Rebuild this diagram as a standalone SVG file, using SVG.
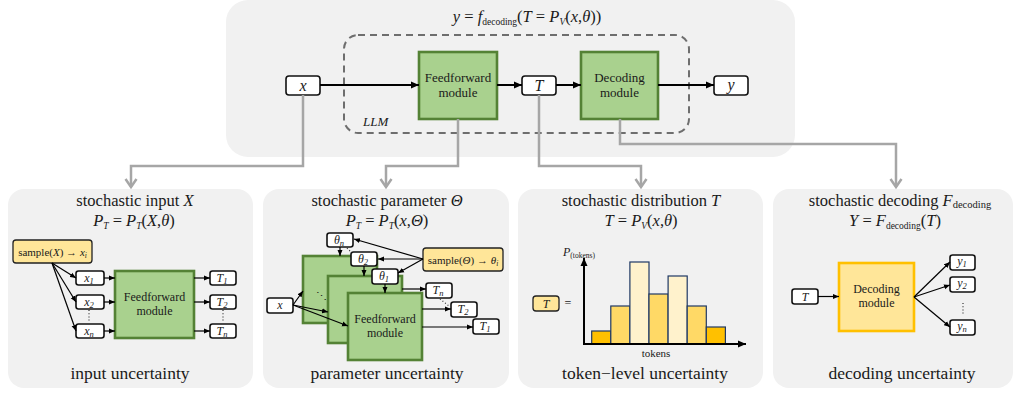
<svg xmlns="http://www.w3.org/2000/svg" width="1015" height="393" viewBox="0 0 1015 393" font-family="'Liberation Serif', 'DejaVu Serif', serif">
<style>
text{font-family:'Liberation Serif','DejaVu Serif',serif;fill:#1a1a1a}
.bg{fill:#f1f1f1}
.t15{font-size:16.5px;text-anchor:middle}
.t17{font-size:17.5px;text-anchor:middle}
.it{font-style:italic}
.node{fill:#fff;stroke:#111;stroke-width:1.6}
.nt{font-size:16px;font-style:italic;text-anchor:middle}
.nts{font-size:12px;font-style:italic;text-anchor:middle}
.green{fill:#a9d18e;stroke:#548235;stroke-width:2.6}
.gl{font-size:13px;text-anchor:middle}
.gls{font-size:12px;text-anchor:middle}
.samp{fill:#ffe699;stroke:#222;stroke-width:1.3}
.arr{stroke:#000;stroke-width:2;fill:none;marker-end:url(#ah)}
.sarr{stroke:#000;stroke-width:1.2;fill:none;marker-end:url(#ahs)}
.conn{stroke:#a6a6a6;stroke-width:2.5;fill:none;marker-end:url(#ahg)}
.dots{stroke:#333;stroke-width:1.2;stroke-dasharray:1 2.2;fill:none}
.bar{stroke:#1f3864;stroke-width:1.2}
</style>
<defs>
<marker id="ah" markerUnits="userSpaceOnUse" markerWidth="9" markerHeight="8" refX="8" refY="4" orient="auto"><path d="M0,0.5 L8,4 L0,7.5 Z" fill="#000"/></marker>
<marker id="ahs" markerUnits="userSpaceOnUse" markerWidth="7" markerHeight="6" refX="6" refY="3" orient="auto"><path d="M0,0.5 L6,3 L0,5.5 Z" fill="#000"/></marker>
<marker id="ahg" markerUnits="userSpaceOnUse" markerWidth="14" markerHeight="14" refX="10" refY="7" orient="auto"><path d="M2,1.5 L10,7 L2,12.5" fill="none" stroke="#a6a6a6" stroke-width="2.5"/></marker>
</defs>

<g id="top-panel">
<rect class="bg" x="226" y="0" width="569" height="157" rx="22"/>
<text class="t15" x="527" y="22"><tspan class="it">y</tspan> = <tspan class="it">f</tspan><tspan font-size="9.5" dy="3">decoding</tspan><tspan dy="-3">(</tspan><tspan class="it">T</tspan> = <tspan class="it">P</tspan><tspan font-size="9.5" class="it" dy="3">V</tspan><tspan dy="-3">(</tspan><tspan class="it">x</tspan>,<tspan class="it">θ</tspan>))</text>
</g>
<g id="llm">
<rect x="344" y="35" width="345" height="98" rx="14" fill="none" stroke="#6e6e6e" stroke-width="2" stroke-dasharray="7 5"/>
<text x="363" y="126" font-size="13" class="it">LLM</text>
</g>
<g id="top-x"><rect class="node" x="286" y="76" width="34" height="19" rx="3"/><text class="nt" x="303" y="91">x</text></g>
<g id="top-ff"><rect class="green" x="419" y="52" width="78" height="67"/><text class="gl" x="458" y="82">Feedforward</text><text class="gl" x="458" y="97">module</text></g>
<g id="top-T"><rect class="node" x="522" y="76" width="34" height="19" rx="3"/><text class="nt" x="539" y="91">T</text></g>
<g id="top-dec"><rect class="green" x="581" y="52" width="77" height="67"/><text class="gl" x="619.5" y="82">Decoding</text><text class="gl" x="619.5" y="97">module</text></g>
<g id="top-y"><rect class="node" x="714" y="76" width="34" height="19" rx="3"/><text class="nt" x="731" y="90">y</text></g>

<g id="panel-input">
<rect class="bg" x="8" y="189" width="245" height="199" rx="16"/>
<text class="t15" x="135" y="206">stochastic input <tspan class="it">X</tspan></text>
<text class="t15" x="134" y="226"><tspan class="it">P</tspan><tspan font-size="9.5" class="it" dy="3">T</tspan><tspan dy="-3"> = </tspan><tspan class="it">P</tspan><tspan font-size="9.5" class="it" dy="3">T</tspan><tspan dy="-3">(</tspan><tspan class="it">X</tspan>,<tspan class="it">θ</tspan>)</text>
<text class="t17" x="130" y="379">input uncertainty</text>
</g>
<g id="panel-param">
<rect class="bg" x="263" y="189" width="246" height="199" rx="16"/>
<text class="t15" x="387" y="206">stochastic parameter <tspan class="it">Θ</tspan></text>
<text class="t15" x="387" y="226"><tspan class="it">P</tspan><tspan font-size="9.5" class="it" dy="3">T</tspan><tspan dy="-3"> = </tspan><tspan class="it">P</tspan><tspan font-size="9.5" class="it" dy="3">T</tspan><tspan dy="-3">(</tspan><tspan class="it">x</tspan>,<tspan class="it">Θ</tspan>)</text>
<text class="t17" x="387" y="379">parameter uncertainty</text>
</g>
<g id="panel-token">
<rect class="bg" x="518" y="189" width="245" height="199" rx="16"/>
<text class="t15" x="641" y="206">stochastic distribution <tspan class="it">T</tspan></text>
<text class="t15" x="641" y="226"><tspan class="it">T</tspan> = <tspan class="it">P</tspan><tspan font-size="9.5" class="it" dy="3">V</tspan><tspan dy="-3">(</tspan><tspan class="it">x</tspan>,<tspan class="it">θ</tspan>)</text>
<text class="t17" x="645" y="379">token−level uncertainty</text>
</g>
<g id="panel-decoding">
<rect class="bg" x="773" y="189" width="240" height="199" rx="16"/>
<text class="t15" x="900" y="206">stochastic decoding <tspan class="it">F</tspan><tspan font-size="10.5" dy="2">decoding</tspan></text>
<text class="t15" x="895" y="226"><tspan class="it">Y</tspan> = <tspan class="it">F</tspan><tspan font-size="9.5" dy="3">decoding</tspan><tspan dy="-3">(</tspan><tspan class="it">T</tspan>)</text>
<text class="t17" x="902" y="379">decoding uncertainty</text>
</g>

<g id="p1-sample"><rect class="samp" x="13" y="240" width="79" height="23" rx="3"/><text x="52.5" y="255.5" font-size="11" text-anchor="middle">sample(<tspan class="it">X</tspan>) → <tspan class="it">x</tspan><tspan font-size="7.5" class="it" dy="2">i</tspan></text></g>
<g id="p1-x1"><rect class="node" x="76" y="271" width="28" height="14" rx="2.5" stroke-width="1.3"/><text class="nts" x="89" y="282"><tspan>x</tspan><tspan font-size="8.5" dy="2">1</tspan></text></g>
<g id="p1-x2"><rect class="node" x="76" y="295" width="28" height="14" rx="2.5" stroke-width="1.3"/><text class="nts" x="89" y="306"><tspan>x</tspan><tspan font-size="8.5" dy="2">2</tspan></text></g>
<g id="p1-xn"><rect class="node" x="76" y="324" width="28" height="14" rx="2.5" stroke-width="1.3"/><text class="nts" x="89" y="335"><tspan>x</tspan><tspan font-size="8.5" dy="2">n</tspan></text></g>
<g id="p1-ff"><rect class="green" x="115" y="271" width="79" height="67"/><text class="gls" x="154.5" y="301">Feedforward</text><text class="gls" x="154.5" y="315">module</text></g>
<g id="p1-T1"><rect class="node" x="210" y="271" width="26" height="14" rx="2.5" stroke-width="1.3"/><text class="nts" x="222" y="282"><tspan>T</tspan><tspan font-size="8.5" dy="2">1</tspan></text></g>
<g id="p1-T2"><rect class="node" x="210" y="295" width="26" height="14" rx="2.5" stroke-width="1.3"/><text class="nts" x="222" y="306"><tspan>T</tspan><tspan font-size="8.5" dy="2">2</tspan></text></g>
<g id="p1-Tn"><rect class="node" x="210" y="324" width="26" height="14" rx="2.5" stroke-width="1.3"/><text class="nts" x="222" y="335"><tspan>T</tspan><tspan font-size="8.5" dy="2">n</tspan></text></g>

<g id="p2-back"><rect class="green" x="303" y="256" width="74" height="67"/><text x="316" y="300" font-size="11">⋱</text></g>
<g id="p2-mid"><rect class="green" x="328" y="276" width="74" height="67"/></g>
<g id="p2-front"><rect class="green" x="348" y="293" width="74" height="67"/><text class="gls" x="385" y="323">Feedforward</text><text class="gls" x="385" y="337">module</text></g>
<g id="p2-thn"><rect class="node" x="327" y="233" width="26" height="14" rx="2.5" stroke-width="1.3"/><text class="nts" x="339" y="244"><tspan>θ</tspan><tspan font-size="8.5" dy="2">n</tspan></text></g>
<g id="p2-th2"><rect class="node" x="351" y="252" width="26" height="14" rx="2.5" stroke-width="1.3"/><text class="nts" x="363" y="263"><tspan>θ</tspan><tspan font-size="8.5" dy="2">2</tspan></text></g>
<g id="p2-th1"><rect class="node" x="372" y="269" width="26" height="15" rx="2.5" stroke-width="1.3"/><text class="nts" x="384" y="280"><tspan>θ</tspan><tspan font-size="8.5" dy="2">1</tspan></text></g>
<g id="p2-sample"><rect class="samp" x="423" y="248" width="80" height="23" rx="3"/><text x="463" y="263.5" font-size="11" text-anchor="middle">sample(<tspan class="it">Θ</tspan>) → <tspan class="it">θ</tspan><tspan font-size="7.5" class="it" dy="2">i</tspan></text></g>
<g id="p2-x"><rect class="node" x="267" y="298" width="26" height="15" rx="2.5" stroke-width="1.3"/><text class="nts" x="280" y="309">x</text></g>
<g id="p2-Tn"><rect class="node" x="426" y="283" width="26" height="15" rx="2.5" stroke-width="1.3"/><text class="nts" x="438" y="294"><tspan>T</tspan><tspan font-size="8.5" dy="2">n</tspan></text></g>
<g id="p2-T2"><rect class="node" x="451" y="302" width="26" height="15" rx="2.5" stroke-width="1.3"/><text class="nts" x="463" y="313"><tspan>T</tspan><tspan font-size="8.5" dy="2">2</tspan></text></g>
<g id="p2-T1"><rect class="node" x="473" y="319" width="26" height="15" rx="2.5" stroke-width="1.3"/><text class="nts" x="485" y="330"><tspan>T</tspan><tspan font-size="8.5" dy="2">1</tspan></text></g>

<g id="p3-chart">
<rect class="bar" x="591.7" y="331" width="19.1" height="13" fill="#ffc000"/>
<rect class="bar" x="610.8" y="306" width="19.1" height="38" fill="#ffd966"/>
<rect class="bar" x="629.9" y="262" width="19.1" height="82" fill="#fff2cc"/>
<rect class="bar" x="649.0" y="294" width="19.1" height="50" fill="#ffd966"/>
<rect class="bar" x="668.1" y="276" width="19.1" height="68" fill="#fff2cc"/>
<rect class="bar" x="687.2" y="306" width="19.1" height="38" fill="#ffd966"/>
<rect class="bar" x="706.3" y="327" width="19.1" height="17" fill="#ffc000"/>
<path class="arr" d="M584,344 V258"/>
<path class="arr" d="M583,344 H746"/>
<text x="563" y="256" font-size="12" class="it">P<tspan font-size="7.5" font-style="normal" dy="2">(tokens)</tspan></text>
<text x="656" y="357" font-size="11" text-anchor="middle">tokens</text>
</g>
<g id="p3-T"><rect x="533" y="296" width="26" height="15" rx="3" fill="#ffe699" stroke="#222" stroke-width="1.3"/><text class="nts" x="546" y="307.5">T</text><text x="568" y="307" font-size="12" text-anchor="middle">=</text></g>

<g id="p4-T"><rect class="node" x="792" y="289" width="26" height="15" rx="2.5" stroke-width="1.3"/><text class="nts" x="805" y="300.5">T</text></g>
<g id="p4-dec"><rect x="839" y="263" width="75" height="68" fill="#ffe699" stroke="#ffc000" stroke-width="2.6"/><text class="gls" x="876.5" y="293">Decoding</text><text class="gls" x="876.5" y="307">module</text></g>
<g id="p4-y1"><rect class="node" x="950" y="255" width="25" height="15" rx="2.5" stroke-width="1.3"/><text class="nts" x="962" y="265"><tspan>y</tspan><tspan font-size="8.5" dy="2">1</tspan></text></g>
<g id="p4-y2"><rect class="node" x="950" y="277" width="25" height="15" rx="2.5" stroke-width="1.3"/><text class="nts" x="962" y="287"><tspan>y</tspan><tspan font-size="8.5" dy="2">2</tspan></text></g>
<g id="p4-yn"><rect class="node" x="950" y="320" width="25" height="15" rx="2.5" stroke-width="1.3"/><text class="nts" x="962" y="330"><tspan>y</tspan><tspan font-size="8.5" dy="2">n</tspan></text></g>

<g id="connectors">
<path class="arr" d="M320,85 H419"/>
<path class="arr" d="M497,85 H522"/>
<path class="arr" d="M556,85 H581"/>
<path class="arr" d="M658,85 H714"/>
<path class="conn" d="M303,95 V166 H131 V187"/>
<path class="conn" d="M458,119 V166 H386 V187"/>
<path class="conn" d="M539,95 V166 H641 V187"/>
<path class="conn" d="M620,119 V144 H896 V187"/>
<path class="sarr" d="M52,263 L76,278"/>
<path class="sarr" d="M52,263 L76,302"/>
<path class="sarr" d="M52,263 L76,331"/>
<path class="sarr" d="M104,278 H115"/>
<path class="sarr" d="M104,302 H115"/>
<path class="sarr" d="M104,331 H115"/>
<path class="sarr" d="M194,278 H210"/>
<path class="sarr" d="M194,302 H210"/>
<path class="sarr" d="M194,331 H210"/>
<path class="dots" d="M89,310 V322"/>
<path class="dots" d="M223,310 V322"/>
<path class="sarr" d="M423,259 L354,239"/>
<path class="sarr" d="M423,259 L378,259"/>
<path class="sarr" d="M423,259 L398,273"/>
<path class="sarr" d="M340,247 V256"/>
<path class="sarr" d="M364,266 V276"/>
<path class="sarr" d="M385,284 V293"/>
<path class="sarr" d="M293,305 L303,291"/>
<path class="sarr" d="M293,305 L328,312"/>
<path class="sarr" d="M293,305 L348,326"/>
<path class="sarr" d="M402,289 H426"/>
<path class="sarr" d="M422,309 H451"/>
<path class="sarr" d="M422,327 H473"/>
<path class="dots" d="M347,248 L352,253"/>
<path class="dots" d="M440,299 L449,306"/>
<path class="sarr" d="M818,296.5 H839"/>
<path class="sarr" d="M914,297 L950,262"/>
<path class="sarr" d="M914,297 L950,285"/>
<path class="sarr" d="M914,297 L950,327"/>
<path class="dots" d="M963,303 V314"/>
</g>
</svg>
